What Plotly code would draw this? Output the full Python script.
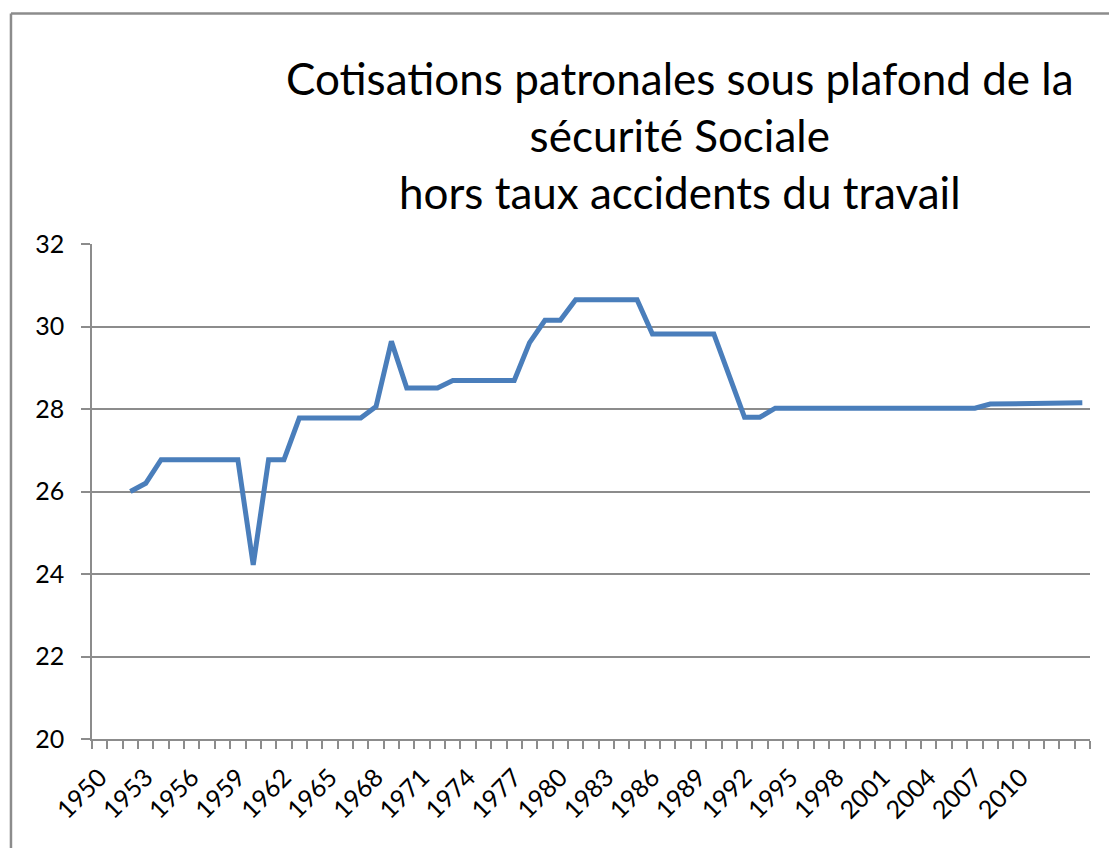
import plotly.graph_objects as go

years = list(range(1952, 2015))
values = [
    26.0, 26.2,                                   # 1952-1953
    26.77, 26.77, 26.77, 26.77, 26.77, 26.77,     # 1954-1959
    24.22,                                        # 1960
    26.77, 26.77,                                 # 1961-1962
    27.78, 27.78, 27.78, 27.78, 27.78,            # 1963-1967
    28.06, 29.64,                                 # 1968-1969
    28.51, 28.51, 28.51,                          # 1970-1972
    28.69, 28.69, 28.69, 28.69, 28.69,            # 1973-1977
    29.61,                                        # 1978
    30.15, 30.15,                                 # 1979-1980
    30.65, 30.65, 30.65, 30.65, 30.65,            # 1981-1985
    29.82, 29.82, 29.82, 29.82, 29.82,            # 1986-1990
    28.81,                                        # 1991
    27.80, 27.80,                                 # 1992-1993
    28.02, 28.02, 28.02, 28.02, 28.02, 28.02, 28.02,
    28.02, 28.02, 28.02, 28.02, 28.02, 28.02, 28.02,  # 1994-2007
    28.12, 28.12, 28.12, 28.12, 28.12, 28.12,     # 2008-2013
    28.15,                                        # 2014
]
category_start, category_end = 1950, 2014
label_years = list(range(1950, 2011, 3))
y_ticks = [20, 22, 24, 26, 28, 30, 32]
title_lines = ["Cotisations patronales sous plafond de la",
               "sécurité Sociale",
               "hors taux accidents du travail"]

OFF = 8  # default page body margin
W, H = 1117, 848
# target plot area in screenshot pixels
PX0, PX1, PY0, PY1 = 92, 1089.6, 244.3, 739.0
L = PX0 - OFF
T = PY0 - OFF
pw, ph = PX1 - PX0, PY1 - PY0
R = W - L - pw
B = H - T - ph

def px_x(px):
    return (px - PX0) / pw

def px_y(py):
    return (PY1 - py) / ph

grey = "#8c8c8c"
font = "Lato, Carlito, sans-serif"

fig = go.Figure()
fig.add_trace(go.Scatter(
    x=years, y=values, mode="lines",
    line=dict(color="#4a7ebb", width=5),
    hoverinfo="skip", showlegend=False,
))

fig.update_layout(
    width=W, height=H,
    margin=dict(l=L, r=R, t=T, b=B, pad=0),
    paper_bgcolor="white", plot_bgcolor="white",
    font=dict(family=font, color="black"),
    xaxis=dict(
        range=[category_start - 0.5, category_end + 0.5],
        tickmode="array", tickvals=label_years,
        ticktext=[str(y) for y in label_years],
        tickangle=-45, ticks="outside", ticklen=12,
        tickcolor="rgba(0,0,0,0)",
        tickfont=dict(size=25, family=font, color="black"),
        showgrid=False, zeroline=False,
        showline=True, linecolor=grey, linewidth=2,
        minor=dict(
            tickmode="array",
            tickvals=[category_start - 0.5 + i for i in range(category_end - category_start + 2)],
            ticks="outside", ticklen=8, tickcolor=grey, tickwidth=1.5,
            showgrid=False,
        ),
        fixedrange=True,
    ),
    yaxis=dict(
        range=[20, 32], tickmode="array", tickvals=y_ticks,
        ticks="outside", ticklen=9, tickcolor=grey, tickwidth=1.5,
        tickfont=dict(size=25, family=font, color="black"),
        ticklabelstandoff=12,
        showgrid=True, gridcolor=grey, gridwidth=1.5,
        zeroline=False,
        showline=True, linecolor=grey, linewidth=1.5,
        fixedrange=True,
    ),
)

fig.add_annotation(
    text="<br>".join(title_lines),
    x=px_x(680), y=px_y(50), xref="paper", yref="paper",
    xanchor="center", yanchor="top", showarrow=False,
    font=dict(size=44, family=font, color="black"),
)

# chart-area border (top and left edges visible)
fig.add_shape(type="line", xref="paper", yref="paper",
              x0=px_x(11), x1=px_x(1140), y0=px_y(14), y1=px_y(14),
              line=dict(color="#8c8c8c", width=2.5))
fig.add_shape(type="line", xref="paper", yref="paper",
              x0=px_x(11), x1=px_x(11), y0=px_y(14), y1=px_y(880),
              line=dict(color="#8c8c8c", width=2.5))

fig.write_html("out.html")
